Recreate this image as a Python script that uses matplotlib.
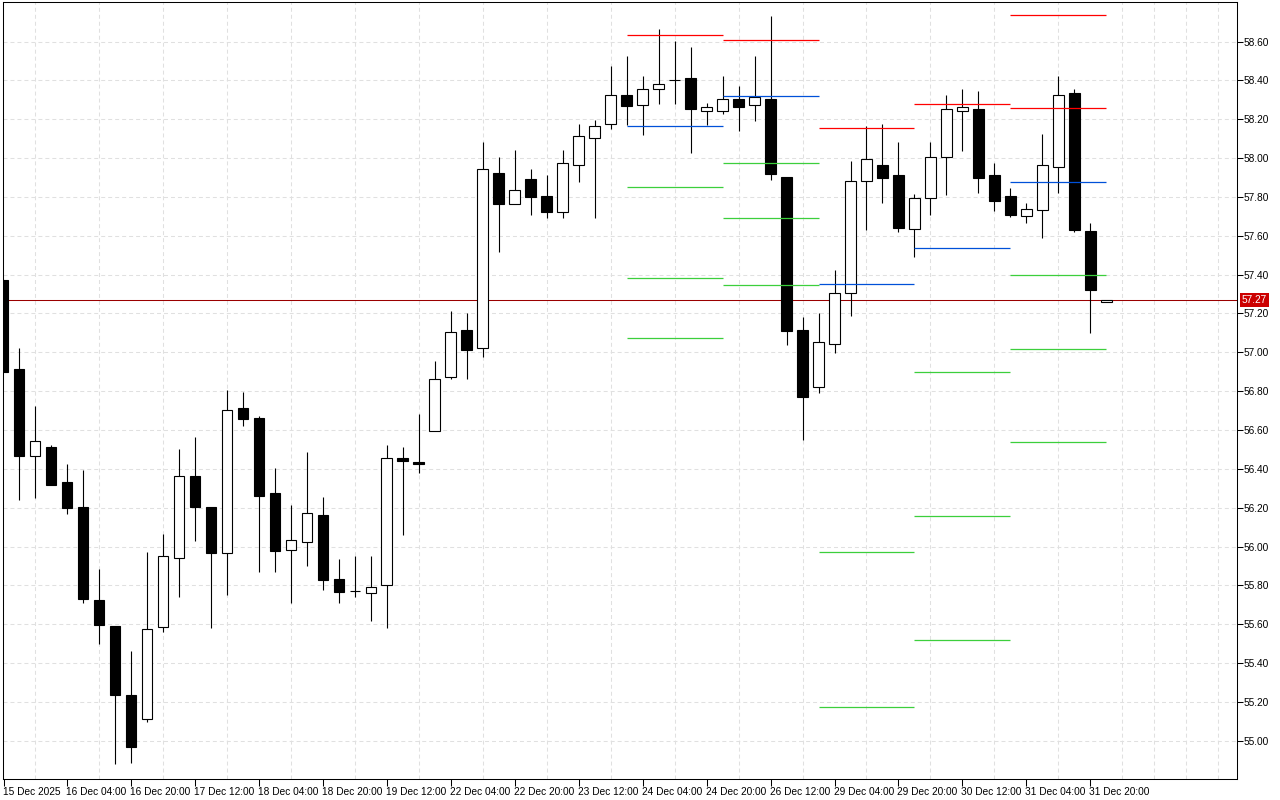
import matplotlib
matplotlib.use('Agg')
import matplotlib.pyplot as plt
import numpy as np
from matplotlib.transforms import ScaledTranslation, blended_transform_factory

plt.rcParams['font.family'] = ['Liberation Sans', 'DejaVu Sans']

# ---------------- data (H4 candles) ----------------
opens = [57.373, 56.915, 56.468, 56.513, 56.333, 56.202, 55.725, 55.591, 55.234, 55.111,
         55.585, 55.940, 56.364, 56.204, 55.969, 56.712, 56.662, 56.275, 55.981, 56.022,
         56.163, 55.832, 55.771, 55.760, 55.801, 56.455, 56.436, 56.594, 56.872, 57.114,
         57.021, 57.922, 57.763, 57.891, 57.804, 57.722, 57.964, 58.103, 58.175, 58.324,
         58.272, 58.355, 58.401, 58.412, 58.242, 58.242, 58.303, 58.272, 58.303, 57.903,
         57.115, 56.820, 57.042, 57.304, 57.881, 57.964, 57.912, 57.634, 57.794, 58.005,
         58.242, 58.252, 57.912, 57.804, 57.701, 57.732, 57.953, 58.334, 57.624, 57.261]
highs = [57.380, 57.023, 56.726, 56.523, 56.425, 56.395, 55.885, 55.591, 55.462, 55.972,
         56.065, 56.503, 56.565, 56.204, 56.807, 56.796, 56.673, 56.405, 56.214, 56.487,
         56.255, 55.936, 55.952, 55.952, 56.522, 56.513, 56.683, 56.956, 57.213, 57.201,
         58.082, 58.005, 58.041, 57.943, 57.912, 58.041, 58.176, 58.195, 58.475, 58.526,
         58.423, 58.665, 58.604, 58.573, 58.283, 58.423, 58.372, 58.526, 58.732, 57.903,
         57.182, 57.203, 57.424, 57.987, 58.166, 58.176, 58.084, 57.814, 58.084, 58.324,
         58.355, 58.345, 57.974, 57.845, 57.771, 58.123, 58.422, 58.355, 57.665, 57.271]
lows = [56.900, 56.242, 56.252, 56.319, 56.170, 55.711, 55.500, 54.882, 54.887, 55.099,
        55.562, 55.742, 56.030, 55.582, 55.751, 56.623, 55.871, 55.871, 55.711, 55.902,
        55.778, 55.711, 55.742, 55.619, 55.582, 56.061, 56.381, 56.594, 56.862, 56.862,
        56.975, 57.519, 57.763, 57.709, 57.691, 57.691, 57.879, 57.691, 58.152, 58.173,
        58.121, 58.281, 58.281, 58.028, 58.173, 58.229, 58.142, 58.193, 57.889, 57.040,
        56.549, 56.791, 56.999, 57.189, 57.632, 57.771, 57.622, 57.493, 57.709, 57.812,
        58.039, 57.822, 57.730, 57.699, 57.668, 57.591, 57.822, 57.622, 57.102, 57.261]
closes = [56.901, 56.468, 56.542, 56.319, 56.200, 55.732, 55.598, 55.237, 54.970, 55.574,
          55.950, 56.362, 56.202, 55.969, 56.702, 56.659, 56.262, 55.979, 56.033, 56.172,
          55.830, 55.768, 55.771, 55.791, 56.455, 56.442, 56.424, 56.862, 57.104, 57.011,
          57.943, 57.763, 57.835, 57.802, 57.722, 57.974, 58.113, 58.164, 58.324, 58.270,
          58.355, 58.381, 58.401, 58.252, 58.262, 58.303, 58.262, 58.314, 57.920, 57.112,
          56.772, 57.052, 57.304, 57.881, 57.994, 57.900, 57.642, 57.794, 58.005, 58.252,
          58.262, 57.900, 57.781, 57.709, 57.740, 57.964, 58.324, 57.632, 57.323, 57.271]

current_price = 57.27

# daily levels (start bar index of each day, 6 bars per day)
day_starts = [39, 45, 51, 57, 63]
level_r2 = [np.nan, np.nan, np.nan, np.nan, 58.736]
level_r1 = [58.633, 58.607, 58.156, 58.278, 58.257]
level_pivot = [58.164, 58.319, 57.351, 57.536, 57.876]
level_s1 = [57.850, 57.974, 55.971, 56.899, 57.397]
level_s2 = [57.382, 57.691, 55.173, 56.158, 57.016]
level_s3 = [57.073, 57.346, np.nan, 55.518, 56.537]

xtick_pos = [0.05, 4, 8, 12, 16, 20, 24, 28, 32, 36, 40, 44, 48, 52, 56, 60, 64, 68]
xtick_labels = ['15 Dec 2025', '16 Dec 04:00', '16 Dec 20:00', '17 Dec 12:00', '18 Dec 04:00',
                '18 Dec 20:00', '19 Dec 12:00', '22 Dec 04:00', '22 Dec 20:00', '23 Dec 12:00',
                '24 Dec 04:00', '24 Dec 20:00', '26 Dec 12:00', '29 Dec 04:00', '29 Dec 20:00',
                '30 Dec 12:00', '31 Dec 04:00', '31 Dec 20:00']
ytick_vals = [55.0, 55.2, 55.4, 55.6, 55.8, 56.0, 56.2, 56.4, 56.6, 56.8,
              57.0, 57.2, 57.4, 57.6, 57.8, 58.0, 58.2, 58.4, 58.6]

# ---------------- figure ----------------
fig = plt.figure(figsize=(12.8, 8), dpi=100)
ax = fig.add_axes([3 / 1280, 21 / 800, 1234 / 1280, 777 / 800])

o = np.array(opens); h = np.array(highs); l = np.array(lows); c = np.array(closes)
idx = np.arange(len(o))
up = c >= o

ax.axhline(current_price, color='#9a0000', lw=0.75, zorder=2)
ax.vlines(idx, l, h, color='black', lw=0.8, zorder=3)
ax.bar(idx, np.abs(c - o), bottom=np.minimum(o, c), width=0.66,
       color=np.where(up, 'white', 'black'), edgecolor='black', linewidth=0.8, zorder=4)

level_sets = [(level_r2, '#ff0000'), (level_r1, '#ff0000'), (level_pivot, '#0050d8'),
              (level_s1, '#3ccf3c'), (level_s2, '#3ccf3c'), (level_s3, '#3ccf3c')]
for vals, col in level_sets:
    for s, v in zip(day_starts, vals):
        if not np.isnan(v):
            ax.hlines(v, s, s + 6, color=col, lw=0.9, zorder=5)

ax.set_xlim(0.044, 77.17)
ax.set_ylim(54.803, 58.804)

# grid
ax.set_yticks(ytick_vals)
ax.set_yticklabels([f'{v:.2f}' for v in ytick_vals])
ax.set_xticks(np.arange(0, 78, 2), minor=True)
ax.set_xticks(xtick_pos)
ax.set_xticklabels(xtick_labels)
grid_kw = dict(color='#e0e0e0', lw=0.75, linestyle=(0, (3.8, 2.9)))
ax.grid(True, axis='y', which='major', **grid_kw)
ax.grid(True, axis='x', which='minor', **grid_kw)
ax.grid(False, axis='x', which='major')
ax.set_axisbelow(True)

ax.yaxis.tick_right()
ax.tick_params(axis='y', which='major', direction='out', length=4, width=0.75, pad=1,
               labelsize=7.3, colors='black')
ax.tick_params(axis='x', which='major', direction='out', length=5, width=0.75, pad=1,
               labelsize=7.3, colors='black')
ax.tick_params(axis='x', which='minor', length=0)
for lab in ax.get_xticklabels():
    lab.set_ha('left')
    lab.set_transform(lab.get_transform() + ScaledTranslation(-1 / 100, 0, fig.dpi_scale_trans))

for sp in ax.spines.values():
    sp.set_color('black')
    sp.set_linewidth(0.75)

trans = blended_transform_factory(ax.transAxes, ax.transData)
ax.text(1.0 + 5 / 1234, current_price, f'{current_price:.2f}', transform=trans,
        ha='left', va='center', fontsize=7.3, color='white', clip_on=False, zorder=10,
        bbox=dict(boxstyle='square,pad=0.22', fc='#cc0000', ec='none'))

fig.savefig('out.png', dpi=100)
